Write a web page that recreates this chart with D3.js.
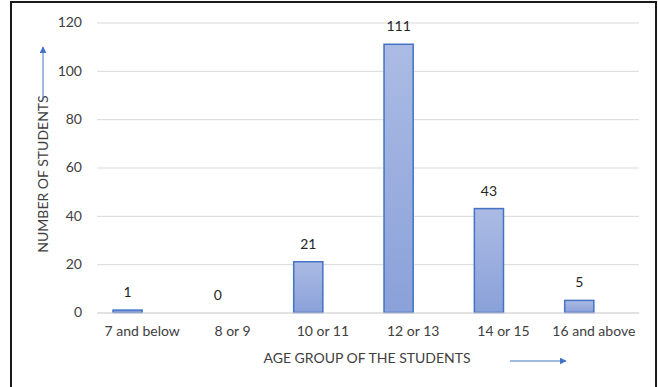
<!DOCTYPE html>
<html><head><meta charset="utf-8">
<script src="https://cdn.jsdelivr.net/npm/d3@7"></script>
<style>
body{margin:0;background:#fff;}
svg{display:block;font-family:Lato,"Open Sans",sans-serif;}
</style></head>
<body><svg id="c" width="658" height="387"></svg>
<script>
const categories = ["7 and below","8 or 9","10 or 11","12 or 13","14 or 15","16 and above"];
const values = [1,0,21,111,43,5];
const yTicks = [0,20,40,60,80,100,120];
const yTitle = "NUMBER OF STUDENTS";
const xTitle = "AGE GROUP OF THE STUDENTS";

const svg = d3.select("#c");
const defs = svg.append("defs");
const g1 = defs.append("linearGradient").attr("id","bg").attr("x1",0).attr("y1",0).attr("x2",0).attr("y2",1);
g1.append("stop").attr("offset","0%").attr("stop-color","#abbbe4");
g1.append("stop").attr("offset","100%").attr("stop-color","#8aa1d9");
const mk = defs.append("marker").attr("id","ah").attr("viewBox","0 0 10 10").attr("refX",9).attr("refY",5)
  .attr("markerWidth",7).attr("markerHeight",7).attr("orient","auto");
mk.append("path").attr("d","M0,0L10,5L0,10z").attr("fill","#4472c4");

// frame
svg.append("rect").attr("x",11).attr("y",2).attr("width",645).attr("height",400)
  .attr("fill","none").attr("stroke","#1a1a1a").attr("stroke-width",2);

const x0 = 97, x1 = 639;
const y = d3.scaleLinear().domain([0,120]).range([312.5,22.5]);
const x = d3.scaleBand().domain(categories).range([x0,x1]).paddingInner(0).paddingOuter(0);
const sub = d3.scaleBand().domain(["a","b"]).range([0,x.bandwidth()]).paddingInner(0).paddingOuter(0.55);

// gridlines
const yAxis = d3.axisLeft(y).tickValues(yTicks).tickSize(-(x1-x0)).tickPadding(15);
const ga = svg.append("g").attr("transform",`translate(${x0},0)`).call(yAxis);
ga.select(".domain").remove();
ga.selectAll(".tick line").attr("stroke","#d9d9d9").attr("stroke-width",1);
ga.selectAll(".tick text").attr("fill","#404040").style("font-size","14px").style("font-family","Lato,sans-serif");

// bars
svg.append("g").selectAll("rect").data(values).join("rect")
  .attr("x",(d,i)=>x(categories[i])+sub("a"))
  .attr("width",sub.bandwidth())
  .attr("y",d=>y(d))
  .attr("height",d=>y(0)-y(d))
  .attr("fill","url(#bg)")
  .attr("stroke",d=>d>0?"#4472c4":"none").attr("stroke-width",1.5);

// data labels
svg.append("g").selectAll("text").data(values).join("text")
  .attr("x",(d,i)=>x(categories[i])+sub("a")+sub.bandwidth()/2)
  .attr("y",d=>y(d)-13)
  .attr("text-anchor","middle").attr("fill","#262626").style("font-size","14px")
  .text(d=>d);

// x axis labels
const xAxis = d3.axisBottom(x).tickSize(0).tickPadding(14);
const gx = svg.append("g").attr("transform",`translate(0,${y(0)})`).call(xAxis);
gx.select(".domain").attr("stroke","#d9d9d9");
gx.selectAll(".tick text").attr("fill","#404040").style("font-size","14px").style("font-family","Lato,sans-serif");

// titles
svg.append("text").attr("x",367).attr("y",363).attr("text-anchor","middle")
  .attr("fill","#404040").style("font-size","14px").text(xTitle);
svg.append("text").attr("transform","translate(48,174) rotate(-90)").attr("text-anchor","middle")
  .attr("fill","#404040").style("font-size","14px").text(yTitle);

// arrows
svg.append("line").attr("x1",510).attr("y1",361).attr("x2",566).attr("y2",361)
  .attr("stroke","#4472c4").attr("stroke-width",1).attr("marker-end","url(#ah)");
svg.append("line").attr("x1",43).attr("y1",100).attr("x2",43).attr("y2",47)
  .attr("stroke","#4472c4").attr("stroke-width",1).attr("marker-end","url(#ah)");
</script></body></html>
